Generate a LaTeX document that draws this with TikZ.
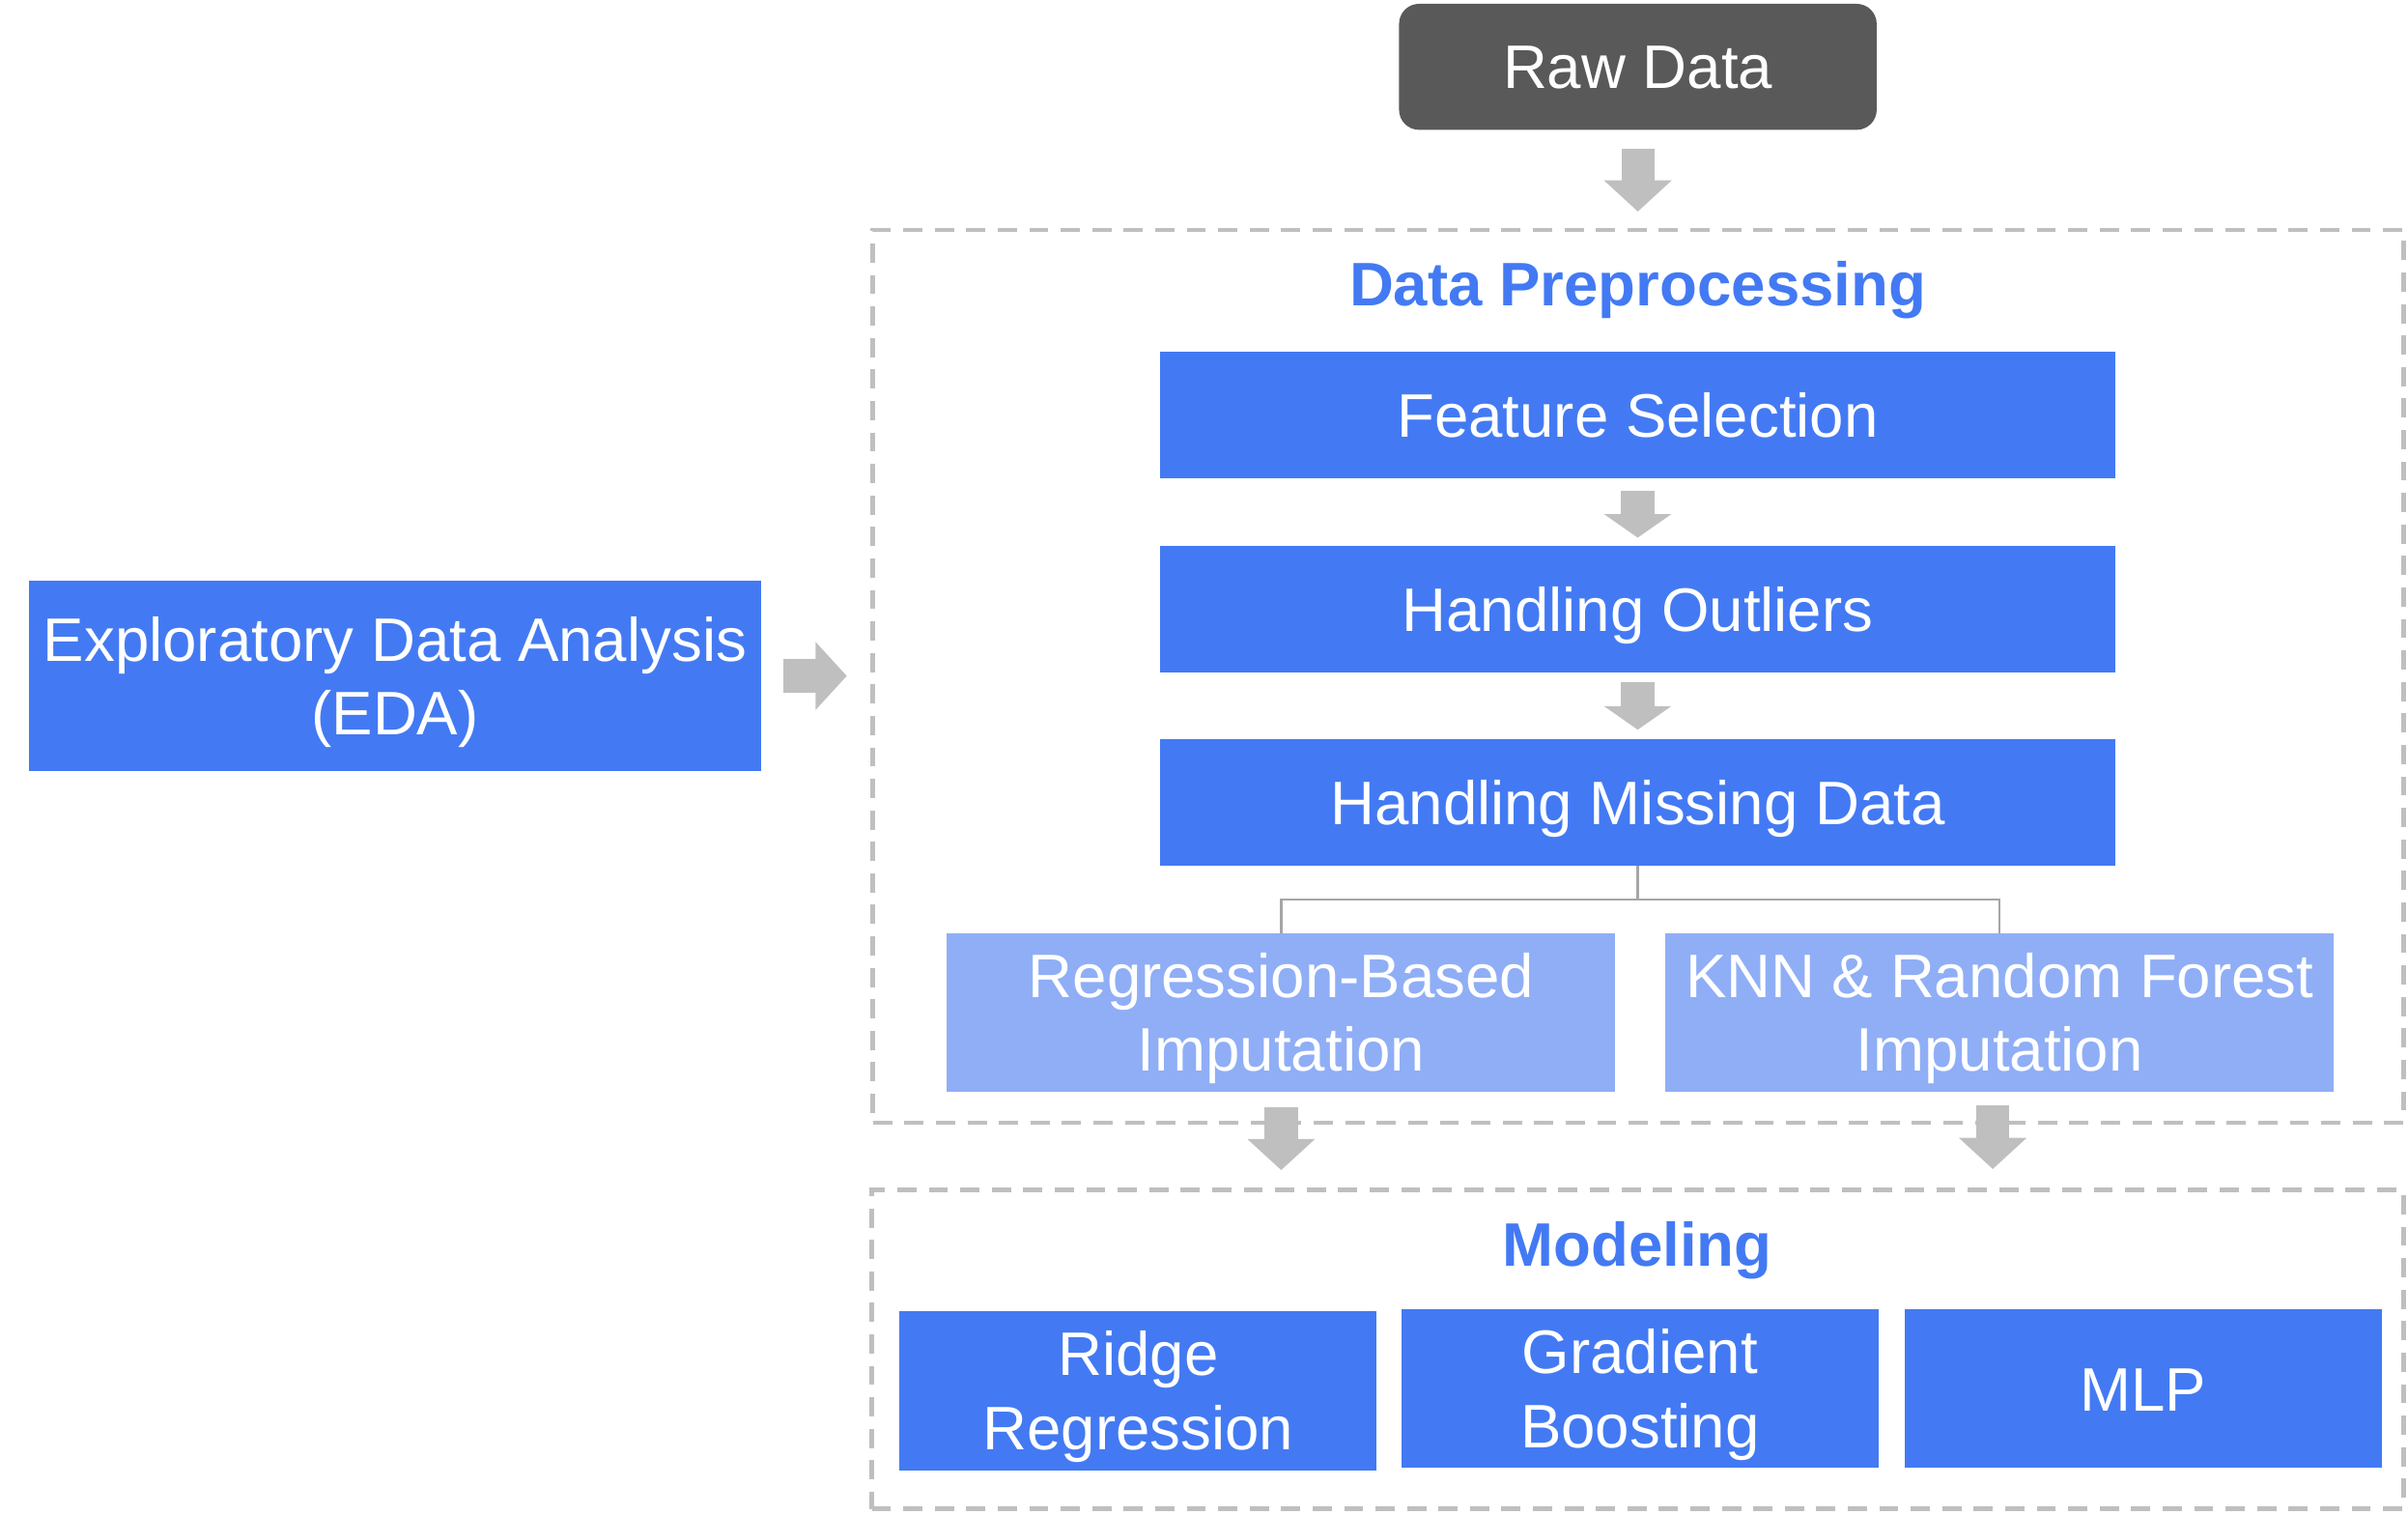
\documentclass[tikz,border=0pt]{standalone}
\usepackage{fontspec}
\setmainfont{Liberation Sans}
\usetikzlibrary{arrows.meta}
\definecolor{boxblue}{HTML}{437AF3}
\definecolor{lightblue}{HTML}{8FAEF6}
\definecolor{rawgray}{HTML}{595959}
\definecolor{arrowgray}{HTML}{BFBFBF}
\definecolor{linegray}{HTML}{A6A6A6}
\definecolor{titleblue}{HTML}{437AF3}
\tikzset{
 txt/.style={font=\fontsize{40}{48}\selectfont, text=white, align=center, inner sep=0pt, outer sep=0pt},
 oneline/.style={text height=28.6pt, text depth=0pt},
 twoline/.style={text height=76.6pt, text depth=0pt},
 bluebox/.style={txt, fill=boxblue, draw=none},
 lightbox/.style={txt, fill=lightblue, draw=none},
 rawbox/.style={txt, fill=rawgray, draw=none, rounded corners=13pt},
 dashbox/.style={draw=arrowgray, line width=3pt, dash pattern=on 12.5pt off 8pt, inner sep=0pt, outer sep=0pt},
 title/.style={font=\fontsize{40}{48}\selectfont\bfseries, text=titleblue, inner sep=0pt, oneline},
 bigarrow/.style={color=arrowgray, line width=21.5pt, -{Triangle[width=43pt,length=20.3pt]}},
 smallarrow/.style={color=arrowgray, line width=22pt, -{Triangle[width=43pt,length=15.3pt]}},
 tree/.style={draw=linegray, line width=1.5pt},
}
\begin{document}
\begin{tikzpicture}[x=1pt,y=-1pt]
\useasboundingbox (0,0) rectangle (1568,985.6);
% containers
\node[dashbox, minimum width=996.5pt, minimum height=581.2pt] (pre) at (1066.75,440.3) {};
\node[dashbox, minimum width=997.3pt, minimum height=207.5pt] (mod) at (1066.35,878.45) {};
% top
\node[rawbox, oneline, minimum width=311pt, minimum height=82pt] (raw) at (1066.5,43.5) {Raw Data};
\node[title] (tpre) at (1066.5,185) {Data Preprocessing};
\node[bluebox, oneline, minimum width=622.3pt, minimum height=82.4pt] (fs) at (1066.4,270.1) {Feature Selection};
\node[bluebox, oneline, minimum width=622.3pt, minimum height=82.4pt] (ho) at (1066.4,396.6) {Handling Outliers};
\node[bluebox, oneline, minimum width=622.3pt, minimum height=82.4pt] (hm) at (1066.4,522.4) {Handling Missing Data};
\node[lightbox, twoline, minimum width=435.3pt, minimum height=103.2pt] (reg) at (834.25,659.2) {Regression-Based\\Imputation};
\node[lightbox, twoline, minimum width=435.3pt, minimum height=103.2pt] (knn) at (1302.1,659.2) {KNN \& Random Forest\\Imputation};
% modeling
\node[title] (tmod) at (1066,810.2) {Modeling};
\node[bluebox, twoline, minimum width=310.7pt, minimum height=103.6pt] (ridge) at (741.15,905.3) {Ridge\\Regression};
\node[bluebox, twoline, minimum width=310.7pt, minimum height=103.3pt] (gb) at (1067.9,904) {Gradient\\Boosting};
\node[bluebox, oneline, minimum width=310.7pt, minimum height=103.3pt] (mlp) at (1395.35,904) {MLP};
% EDA
\node[bluebox, twoline, minimum width=476.9pt, minimum height=124.3pt] (eda) at (257.25,440) {Exploratory Data Analysis\\(EDA)};
% arrows
\draw[bigarrow, shorten <=12.5pt, shorten >=12pt] (raw.south) -- (raw.south |- pre.north);
\draw[smallarrow, shorten <=8pt, shorten >=5.4pt] (fs.south) -- (ho.north);
\draw[smallarrow, shorten <=6pt, shorten >=6.2pt] (ho.south) -- (hm.north);
\draw[tree] (hm.south) -- ++(0,22) -| (reg.north);
\draw[tree] (hm.south) -- ++(0,22) -| (knn.north);
\draw[bigarrow, shorten <=9.8pt, shorten >=13pt] (reg.south) -- (reg.south |- mod.north);
\draw[bigarrow, shorten <=8.9pt, shorten >=13.7pt] ([xshift=-4.5pt]knn.south) -- ([xshift=-4.5pt]knn.south |- mod.north);
\draw[bigarrow, shorten <=14.6pt, shorten >=17.1pt] (eda.east) -- (eda.east -| pre.west);
\end{tikzpicture}
\end{document}
